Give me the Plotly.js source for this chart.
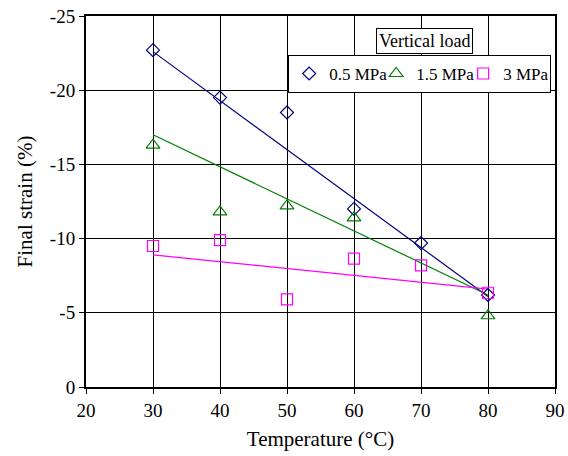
<!DOCTYPE html>
<html>
<head>
<meta charset="utf-8">
<script src="https://cdn.plot.ly/plotly-3.0.1.min.js"></script>
<style>
  html, body { margin: 0; padding: 0; background: #fff; }
  #chart { width: 568px; height: 456px; }
</style>
</head>
<body>
<div id="chart"></div>
<script>
// Final strain versus temperature for three vertical loads
const temps05 = [30, 40, 50, 60, 70, 80];
const strain05 = [-22.7, -19.5, -18.5, -12.0, -9.7, -6.2];

const temps15 = [30, 40, 50, 60, 80];
const strain15 = [-16.3, -11.8, -12.2, -11.4, -4.8];

const temps3 = [30, 40, 50, 60, 70, 80];
const strain3 = [-9.5, -9.9, -5.9, -8.65, -8.2, -6.35];

// Linear trend lines (end points at 30 and 80 °C)
const trendX = [30, 80];
const trend05 = [-22.6, -6.1];
const trend15 = [-17.0, -6.2];
const trend3 = [-8.9, -6.6];

const seriesNames = ['0.5 MPa', '1.5 MPa', '3 MPa'];
const yTickVals = [0, -5, -10, -15, -20, -25];
const yTickText = ['0', '-5', '-10', '-15', '-20', '-25'];
const xTickVals = [20, 30, 40, 50, 60, 70, 80, 90];

const NAVY = '#000080', GREEN = '#008000', MAGENTA = '#FF00FF';
const FONT = 'Liberation Serif';

function trend(y, color) {
  return { x: trendX, y: y, mode: 'lines', type: 'scatter',
           line: { color: color, width: 1.2 }, showlegend: false, hoverinfo: 'skip' };
}
function pts(x, y, name, symbol, color, size) {
  return { x: x, y: y, name: name, mode: 'markers', type: 'scatter',
           marker: { symbol: symbol, size: size, color: color,
                     line: { color: color, width: 1.2 } } };
}

const data = [
  trend(trend05, NAVY), trend(trend15, GREEN), trend(trend3, MAGENTA),
  pts(temps05, strain05, seriesNames[0], 'diamond-open', NAVY, 10),
  pts(temps15, strain15, seriesNames[1], 'triangle-up-open', GREEN, 12),
  pts(temps3, strain3, seriesNames[2], 'square-open', MAGENTA, 11)
];

const layout = {
  width: 568, height: 456,
  margin: { l: 86, r: 13, t: 16, b: 69, autoexpand: false },
  paper_bgcolor: '#fff', plot_bgcolor: '#fff',
  font: { family: FONT, color: '#000', size: 18 },
  showlegend: true,
  xaxis: {
    range: [20, 90], tickvals: xTickVals,
    showgrid: true, gridcolor: '#000', gridwidth: 1,
    zeroline: false, showline: true, linecolor: '#000', linewidth: 2, mirror: true,
    ticks: 'outside', ticklen: 5, tickcolor: '#000',
    tickfont: { family: FONT, size: 19 },
    title: { text: 'Temperature (°C)', font: { family: FONT, size: 21 }, standoff: 12 }
  },
  yaxis: {
    range: [0, -25], tickvals: yTickVals, ticktext: yTickText,
    showgrid: true, gridcolor: '#000', gridwidth: 1,
    zeroline: false, showline: true, linecolor: '#000', linewidth: 2, mirror: true,
    ticks: 'outside', ticklen: 5, tickcolor: '#000',
    tickfont: { family: FONT, size: 19 },
    title: { text: 'Final strain (%)', font: { family: FONT, size: 21 }, standoff: 12 }
  },
  legend: {
    orientation: 'h', x: 0.431, y: 0.895, xanchor: 'left', yanchor: 'top',
    bgcolor: '#fff', bordercolor: '#000', borderwidth: 1,
    font: { family: FONT, size: 17 }, itemwidth: 30, entrywidth: 42, tracegroupgap: 0
  },
  annotations: [{
    text: 'Vertical load', xref: 'paper', yref: 'paper',
    x: 0.721, y: 0.933, xanchor: 'center', yanchor: 'middle',
    showarrow: false, bgcolor: '#fff', bordercolor: '#000', borderwidth: 1, borderpad: 2,
    font: { family: FONT, size: 18 }
  }]
};

Plotly.newPlot('chart', data, layout, { displayModeBar: false, staticPlot: true });
</script>
</body>
</html>
